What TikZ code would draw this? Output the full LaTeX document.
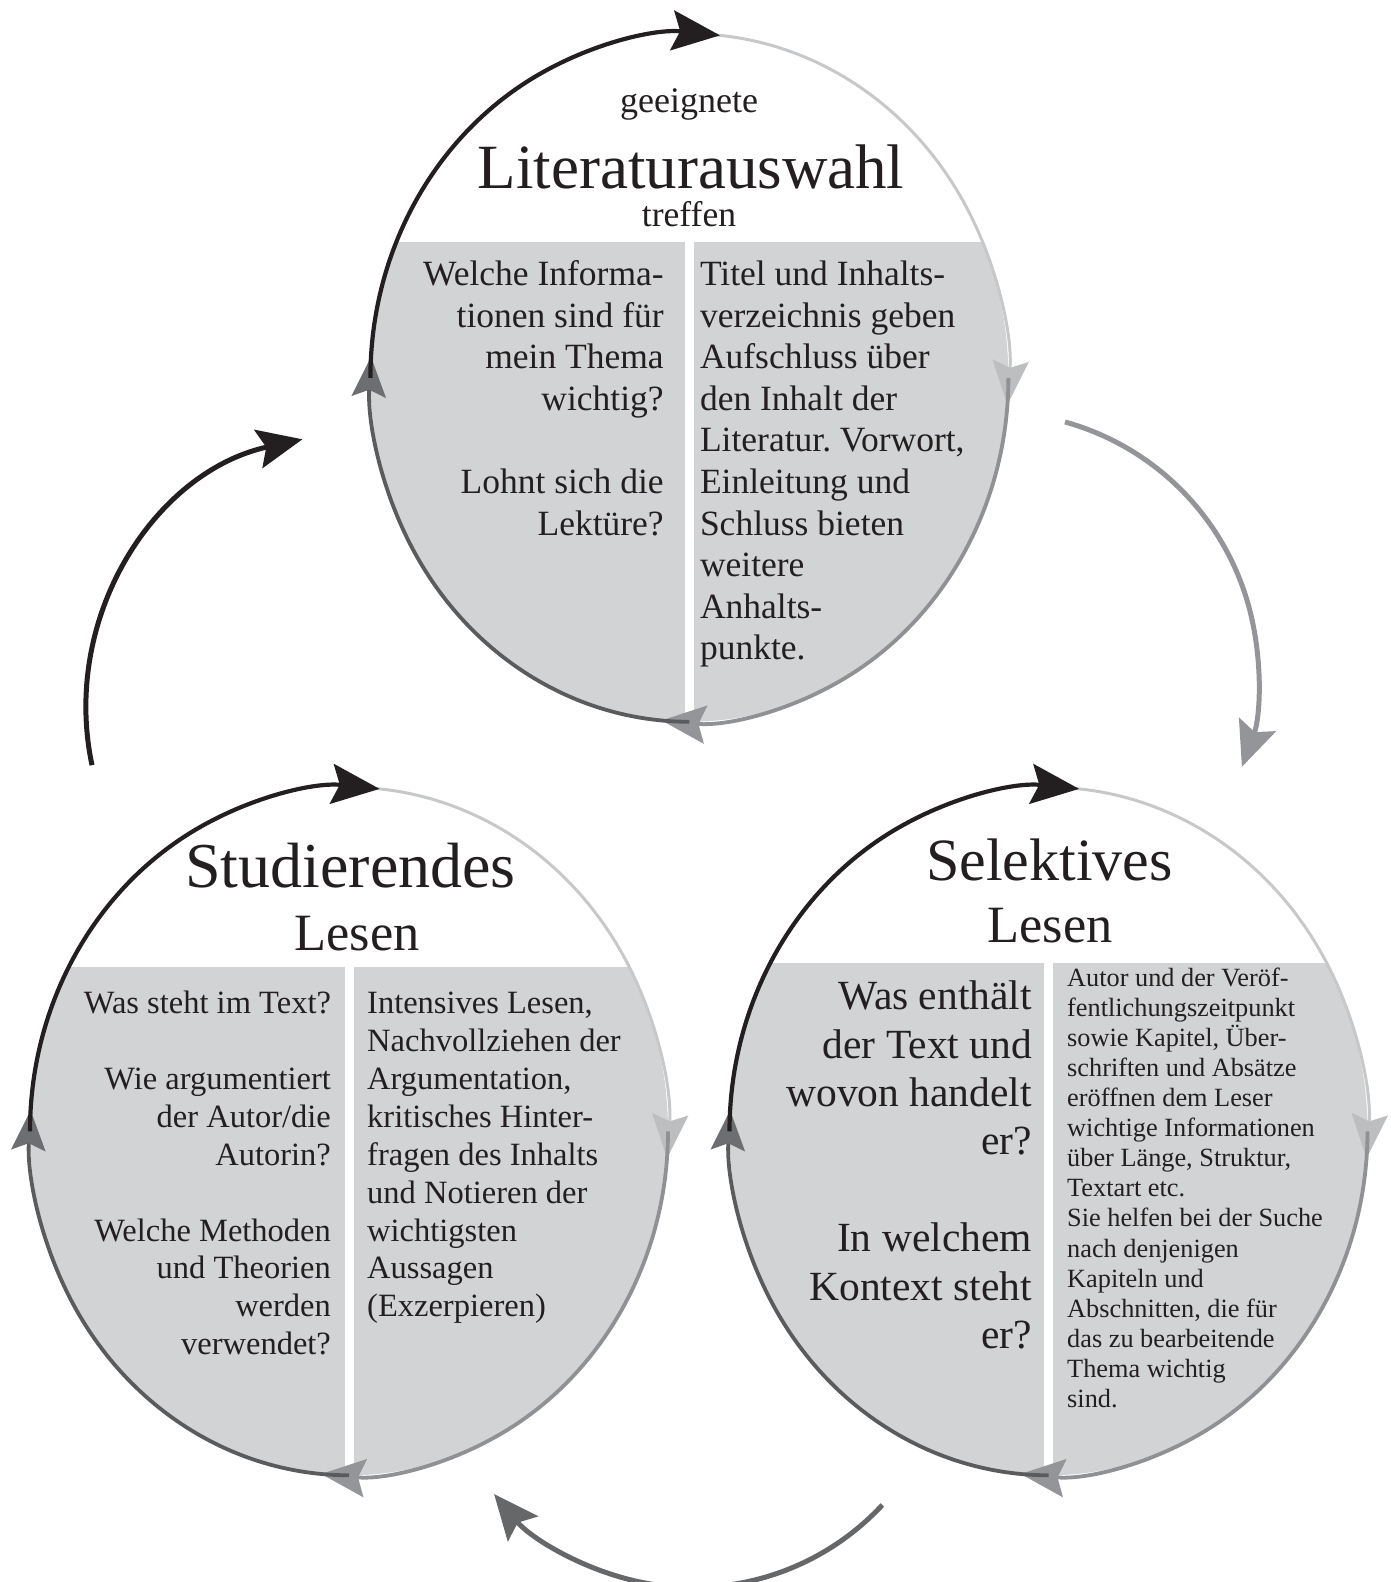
\documentclass[tikz,border=0pt]{standalone}
\usepackage{fontspec}
\setmainfont{Liberation Serif}
\usetikzlibrary{arrows.meta}
\frenchspacing
\definecolor{ink}{HTML}{231F20}
\definecolor{panel}{HTML}{D1D3D4}
\definecolor{lgline}{HTML}{C7C8CA}
\definecolor{lghead}{HTML}{BCBEC0}
\definecolor{mgline}{HTML}{8F9194}
\definecolor{mghead}{HTML}{939598}
\definecolor{dgline}{HTML}{5A5B5D}
\definecolor{dghead}{HTML}{6D6E71}
\definecolor{outgray}{HTML}{939598}
\definecolor{outdark}{HTML}{666769}

\newcommand\panelfill[2]{%
  \begin{scope}
    \clip (#1) ellipse [x radius=319, y radius=344];
    \fill[panel] ([shift={(-330,-350)}]#1) rectangle ([shift={(330,#2)}]#1);
    \fill[white] ([shift={(-4.5,-350)}]#1) rectangle ([shift={(4.5,#2)}]#1);
  \end{scope}}

\newcommand\ringarcs[1]{%
  \draw[lgarc] ([shift={(90:319 and 344)}]#1) arc[start angle=90, end angle=-4.5, x radius=319, y radius=344];
  \draw[mgarc] ([shift={(0:319 and 344)}]#1) arc[start angle=0, end angle=-95, x radius=319, y radius=344];
  \draw[dgarc] ([shift={(-90:319 and 344)}]#1) arc[start angle=-90, end angle=-183.5, x radius=319, y radius=344];
  \draw[blarc] ([shift={(180:319 and 344)}]#1) arc[start angle=180, end angle=84.5, x radius=319, y radius=344];}

\begin{document}
\begin{tikzpicture}[x=1pt, y=1pt,
  txt/.style={inner sep=0pt, outer sep=0pt, text=ink},
  lgarc/.style={draw=lgline, line width=3pt, -{Stealth[length=44pt, width=36pt, inset=7pt, color=lghead]}},
  mgarc/.style={draw=mgline, line width=3.8pt, -{Stealth[length=44pt, width=38pt, inset=7pt, color=mghead]}},
  dgarc/.style={draw=dgline, line width=3.8pt, -{Stealth[length=40pt, width=34pt, inset=7pt, color=dghead]}},
  blarc/.style={draw=ink, line width=4.2pt, -{Stealth[length=48pt, width=40pt, inset=8pt, color=ink]}},
  outerarc/.style={line width=5pt, -{Stealth[length=45pt, width=39pt, inset=8pt]}}]
\useasboundingbox (0,0) rectangle (1391,1582);

\coordinate (T) at (689.4,1204.2);
\coordinate (L) at (349,450.7);
\coordinate (R) at (1048.5,450.7);

\panelfill{T}{135.7}
\panelfill{L}{164}
\panelfill{R}{168}

\ringarcs{T}
\ringarcs{L}
\ringarcs{R}

% outer arcs
\coordinate (lc) at (361,874);
\coordinate (rc) at (994.6,906.1);
\coordinate (bc) at (693,253);
\draw[outerarc, draw=ink] ([shift={(192:275)}]lc) arc[start angle=192, end angle=102.3, radius=275];
\draw[outerarc, draw=outgray] ([shift={(74.5:263.5)}]rc) arc[start angle=74.5, end angle=-20.2, radius=263.5];
\draw[outerarc, draw=outdark] ([shift={(-42.9:258.5)}]bc) arc[start angle=-42.9, end angle=-140.3, radius=258.5];

% top circle texts
\node[txt, anchor=base] (tgee) at (689,1469) {\fontsize{36}{36}\selectfont geeignete};
\node[txt, anchor=base] (ttitle) at (691,1393.4) {\fontsize{63}{63}\selectfont Literaturauswahl};
\node[txt, anchor=base] (ttref) at (689,1355) {\fontsize{35.6}{36}\selectfont treffen};
\node[txt, anchor=base east] (tq) at (663.7,1296.5) {\parbox[t]{320pt}{\fontsize{35.5}{41.6}\selectfont\raggedleft
Welche Informa-\\ tionen sind für\\ mein Thema\\ wichtig?\\[41.6pt] Lohnt sich die\\ Lektüre?}};
\node[txt, anchor=base west] (ta) at (700,1296.5) {\parbox[t]{320pt}{\fontsize{35.5}{41.6}\selectfont\raggedright
Titel und Inhalts-\\ verzeichnis geben\\ Aufschluss über\\ den Inhalt der\\ Literatur. Vorwort,\\ Einleitung und\\ Schluss bieten\\ weitere\\ Anhalts-\\ punkte.}};

% bottom-left circle texts
\node[txt, anchor=base] (ltitle) at (350.5,694.3) {\fontsize{64}{64}\selectfont Studierendes};
\node[txt, anchor=base] (llesen) at (357,631.8) {\fontsize{52.4}{52}\selectfont Lesen};
\node[txt, anchor=base east] (lq) at (330.9,568.3) {\parbox[t]{320pt}{\fontsize{32.5}{37.9}\selectfont\raggedleft
Was steht im Text?\\[37.9pt] Wie argumentiert\\ der Autor/die\\ Autorin?\\[37.9pt] Welche Methoden\\ und Theorien\\ werden\\ verwendet?}};
\node[txt, anchor=base west] (la) at (367.2,568.3) {\parbox[t]{320pt}{\fontsize{32.5}{37.9}\selectfont\raggedright
Intensives Lesen,\\ Nachvollziehen der\\ Argumentation,\\ kritisches Hinter-\\ fragen des Inhalts\\ und Notieren der\\ wichtigsten\\ Aussagen\\ (Exzerpieren)}};

% bottom-right circle texts
\node[txt, anchor=base] (rtitle) at (1049.6,701.4) {\fontsize{60}{60}\selectfont Selektives};
\node[txt, anchor=base] (rlesen) at (1050,639.9) {\fontsize{52.4}{52}\selectfont Lesen};
\node[txt, anchor=base east] (rq) at (1031.9,572.3) {\parbox[t]{320pt}{\fontsize{41.5}{48.4}\selectfont\raggedleft
Was enthält\\ der Text und\\ wovon handelt\\ er?\\[48.4pt] In welchem\\ Kontext steht\\ er?}};
\node[txt, anchor=base west] (ra) at (1067.2,595.5) {\parbox[t]{320pt}{\fontsize{26.3}{30.06}\selectfont\raggedright
Autor und der Veröf-\\ fentlichungszeitpunkt\\ sowie Kapitel, Über-\\ schriften und Absätze\\ eröffnen dem Leser\\ wichtige Informationen\\ über Länge, Struktur,\\ Textart etc.\\ Sie helfen bei der Suche\\ nach denjenigen\\ Kapiteln und\\ Abschnitten, die für\\ das zu bearbeitende\\ Thema wichtig\\ sind.}};
\end{tikzpicture}
\end{document}
